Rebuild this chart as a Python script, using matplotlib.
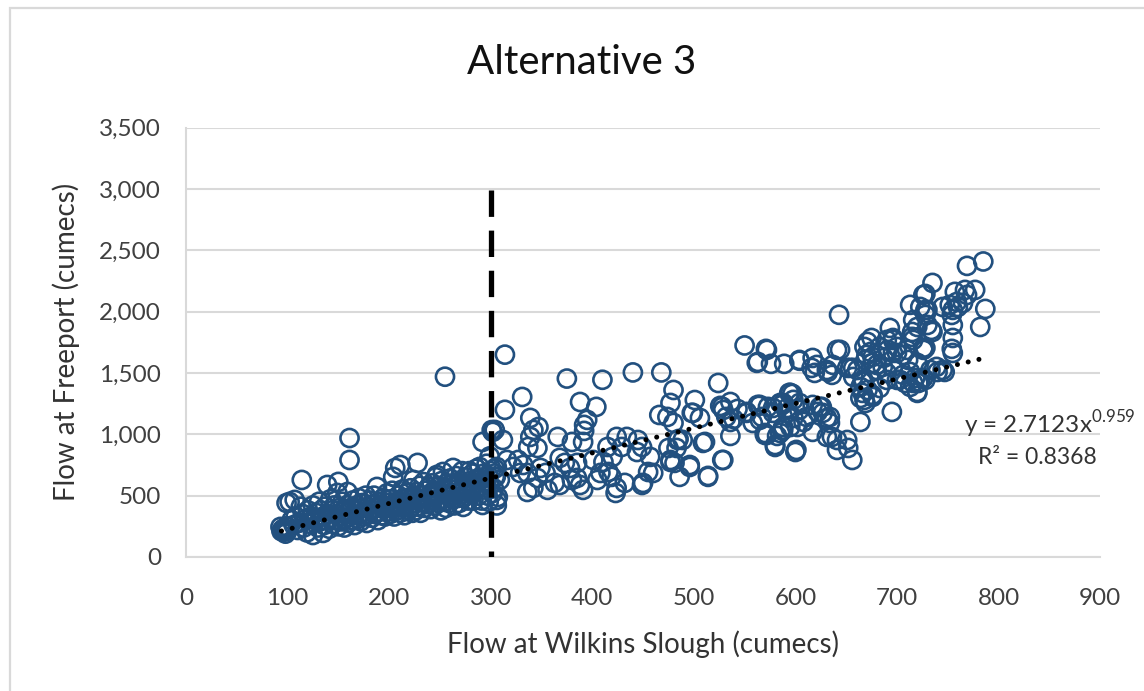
import matplotlib
matplotlib.use('Agg')
import matplotlib.pyplot as plt
import numpy as np
from matplotlib.ticker import FuncFormatter
from matplotlib.patches import Rectangle

plt.rcParams['font.family'] = ['Lato', 'DejaVu Sans']
plt.rcParams['mathtext.fontset'] = 'custom'
plt.rcParams['mathtext.rm'] = 'Lato'

# dense low-flow band (Wilkins Slough < ~300 cumecs)
wilkins_low = [93, 96, 95, 98, 97, 100, 94, 99,
               102, 99, 107, 104, 106, 108, 110, 112, 114, 115, 116, 118, 119, 120, 113,
               122, 123, 125, 125, 127, 128, 130, 131, 132, 133, 135, 135, 136, 137, 138, 139, 139,
               141, 142, 143, 144, 145, 146, 147, 148, 149, 150, 150, 151, 152, 153, 154, 155, 156, 157, 158, 159, 160, 160,
               161, 161, 162, 163, 164, 165, 166, 167, 168, 169, 170, 171, 172, 173, 174, 175, 176, 177, 178, 179, 180,
               181, 182, 183, 184, 185, 186, 188, 188, 189, 190, 191, 192, 193, 194, 195, 196, 197, 198, 199, 200,
               201, 202, 203, 204, 204, 205, 206, 207, 208, 209, 210, 211, 211, 212, 213, 214, 215, 216, 217, 218, 219, 220,
               221, 222, 223, 224, 224, 225, 226, 227, 228, 228, 229, 230, 231, 232, 233, 234, 235, 236, 237, 238, 239, 240,
               241, 242, 243, 244, 245, 246, 247, 247, 248, 249, 250, 251, 252, 253, 253, 254, 255, 255, 256, 257, 258, 259, 260,
               261, 262, 263, 263, 264, 265, 266, 267, 268, 269, 270, 271, 272, 273, 273, 274, 275, 276, 277, 278, 279, 280, 280,
               281, 282, 283, 284, 285, 286, 287, 288, 289, 289, 290, 291, 292, 292, 293, 294, 295, 296, 297, 298, 299, 300,
               302, 305, 307, 301, 303, 304, 306, 299, 298]
freeport_low = [245, 204, 225, 190, 235, 215, 210, 250,
                449, 440, 465, 300, 260, 330, 220, 280, 628, 350, 240, 310, 200, 380, 410,
                270, 330, 179, 420, 300, 360, 240, 450, 290, 380, 196, 330, 260, 410, 300, 587, 350,
                230, 470, 320, 380, 270, 420, 300, 350, 522, 612, 250, 400, 330, 290, 450, 370, 240, 310, 420, 530, 280, 360,
                970, 791, 400, 300, 460, 340, 260, 380, 420, 310, 480, 350, 290, 400, 440, 330, 370, 500, 277, 410, 350,
                460, 380, 320, 430, 500, 350, 571, 400, 300, 450, 370, 420, 340, 480, 390, 330, 440, 520, 370, 410,
                350, 470, 540, 653, 400, 330, 726, 450, 380, 500, 420, 750, 360, 470, 550, 400, 340, 480, 430, 520, 380, 460,
                560, 410, 360, 628, 490, 440, 380, 530, 767, 470, 410, 580, 360, 500, 450, 610, 400, 540, 480, 430, 570, 510,
                390, 600, 460, 540, 420, 650, 669, 500, 440, 580, 470, 380, 620, 693, 520, 450, 1470, 560, 400, 600, 500, 440, 640,
                550, 470, 726, 600, 420, 520, 660, 480, 580, 440, 620, 540, 700, 481, 408, 590, 650, 500, 560, 460, 700, 571, 620,
                510, 680, 460, 600, 540, 720, 640, 500, 734, 628, 580, 460, 938, 424, 680, 550, 620, 760, 500, 660, 580, 700,
                1020, 653, 489, 1035, 560, 720, 420, 820, 450]

# scattered high-flow points (Wilkins Slough > ~300 cumecs)
wilkins_high = [314, 375, 410, 440, 468, 550, 571, 562, 576, 589, 604, 331, 314, 388, 404, 480, 477, 524, 501, 466,
                474, 480, 498, 506, 526, 536, 543, 539, 552, 564, 573, 585, 597, 592, 604, 587, 582, 572, 608, 600,
                580, 536, 529, 509, 514, 486, 496, 485, 475, 477, 481, 460, 455, 449, 445, 444, 434, 424, 429, 415,
                420, 411, 401, 432, 424, 423, 416, 419, 408, 405, 391, 388, 385, 392, 395, 392, 391, 380, 366, 368,
                373, 378, 385, 363, 356, 368, 380, 349, 354, 346, 342, 336, 339, 342, 347, 339, 346, 337, 327, 322,
                332, 329, 336, 312, 304, 316, 306, 304, 302, 306, 309,
                785, 769, 735, 728, 713, 723, 730, 757, 767, 777, 769, 745, 752, 755, 760, 754, 759, 765, 787, 782,
                755, 755, 754, 755, 735, 728, 730, 716, 715, 720, 716, 726, 693, 696, 690, 683, 700, 696, 706, 675,
                668, 670, 676, 680, 686, 643, 641, 644, 617, 621, 616, 619, 637, 632, 651, 657, 572, 563, 657, 667,
                664, 671, 666, 668, 676, 690, 700, 706, 696, 713, 716, 723, 726, 720, 713, 740, 747, 695, 664, 651,
                652, 641, 641, 631, 634, 624, 627, 622, 631, 617, 611, 617, 601, 594, 604, 587, 578, 588, 580, 570,
                565, 565, 558, 552, 529, 536, 499, 511, 489, 656, 636, 634, 626, 595, 604, 631, 636, 654, 661, 671,
                674, 669, 676, 680, 687, 696, 691, 700, 710, 711, 720, 726, 666, 664, 669, 676, 683, 690, 703, 708,
                718, 721, 728, 733, 739, 745, 720, 715, 726, 728, 734, 728,
                528, 532, 563, 567, 578, 588, 595, 598, 592, 598, 602, 588, 585, 570, 580, 484, 483, 477, 496, 528,
                514, 457, 450, 449]
freeport_high = [1650, 1455, 1445, 1505, 1505, 1725, 1697, 1583, 1575, 1575, 1600, 1305, 1200, 1264, 1224, 1362, 1256, 1419, 1280, 1158,
                 1142, 1093, 1175, 1134, 1232, 1264, 1207, 1126, 1183, 1232, 1224, 1256, 1330, 1215, 1256, 1036, 987, 995, 1101, 856,
                 905, 987, 791, 930, 661, 653, 734, 962, 889, 775, 767, 685, 693, 587, 954, 856, 979, 979, 897, 897,
                 816, 775, 791, 604, 563, 522, 693, 653, 685, 628, 547, 587, 644, 1077, 1118, 1028, 938, 938, 979, 808,
                 767, 726, 767, 604, 547, 587, 628, 726, 685, 644, 563, 530, 1134, 1036, 1060, 979, 889, 897, 791, 734,
                 750, 685, 685, 954, 1036, 791, 734, 653, 522, 465, 628,
                 2410, 2374, 2235, 2145, 2056, 2039, 2015, 2162, 2178, 2178, 2137, 2039, 2056, 2015, 2039, 1974, 2080, 2072, 2023, 1876,
                 1892, 1786, 1697, 1664, 1835, 1974, 1892, 1933, 1835, 1876, 1770, 1705, 1868, 1786, 1770, 1713, 1713, 1664, 1648, 1786,
                 1713, 1648, 1631, 1566, 1550, 1975, 1689, 1689, 1623, 1566, 1542, 1501, 1566, 1509, 1542, 1542, 1689, 1591, 1468, 1444,
                 1387, 1362, 1338, 1281, 1305, 1501, 1444, 1485, 1550, 1509, 1419, 1427, 1460, 1346, 1387, 1509, 1509, 1183, 1101, 954,
                 889, 954, 873, 979, 1093, 1224, 1175, 1183, 1134, 1240, 1142, 1020, 873, 1338, 1199, 1240, 1175, 1036, 913, 1011,
                 1240, 1118, 1093, 1175, 1199, 1101, 1175, 938, 954, 791, 979, 1142, 1224, 1060, 1607, 1525, 1485, 1542, 1525, 1754,
                 1672, 1607, 1583, 1525, 1623, 1770, 1689, 1664, 1689, 1607, 1583, 1689, 1427, 1297, 1256, 1321, 1378, 1444, 1444, 1419,
                 1460, 1419, 1444, 1525, 1550, 1525, 1338, 1795, 2137, 2015, 1852, 1705,
                 1224, 1142, 1240, 1142, 1215, 1256, 1338, 1281, 1175, 1134, 1060, 1060, 1011, 995, 897, 954, 889, 791, 750, 791,
                 653, 816, 604, 897]

# power trendline reported on the chart
trend_a = 2.7123
trend_b = 0.959
trend_range = [94, 785]
threshold = 300
threshold_top = 2990

fig = plt.figure(figsize=(11.44, 6.91), dpi=100)
ax = fig.add_axes([0.1626, 0.194, 0.799, 0.621])

fig.patches.append(Rectangle((0.0087, -0.05), 1.2, 1.038, transform=fig.transFigure,
                             fill=False, edgecolor='#D9D9D9', lw=1.6))

blue = '#22507F'
ax.scatter(wilkins_low + wilkins_high, freeport_low + freeport_high, s=170, facecolors='none',
           edgecolors=blue, linewidths=1.9, zorder=3)

xt = np.linspace(trend_range[0], trend_range[1], 200)
ax.plot(xt, trend_a * xt ** trend_b, color='black', lw=3.6, linestyle=(0, (0.01, 2.2)),
        dash_capstyle='round', zorder=4)

ax.plot([threshold, threshold], [threshold_top, 0], color='black', lw=3.8,
        linestyle=(0, (5.0, 2.6)), zorder=5)

ax.set_xlim(0, 900)
ax.set_ylim(0, 3500)
ax.set_xticks(range(0, 901, 100))
ax.set_yticks(range(0, 3501, 500))
ax.yaxis.set_major_formatter(FuncFormatter(lambda v, p: '{:,.0f}'.format(v)))
ax.grid(axis='y', color='#D9D9D9', lw=1.5, zorder=0)
ax.set_axisbelow(True)
for s in ['top', 'right']:
    ax.spines[s].set_visible(False)
for s in ['left', 'bottom']:
    ax.spines[s].set_color('#D9D9D9')
    ax.spines[s].set_linewidth(1.5)
ax.tick_params(axis='x', length=0, labelsize=17.5, labelcolor='#404040', pad=22)
ax.tick_params(axis='y', length=0, labelsize=17.5, labelcolor='#404040', pad=18)

fig.text(0.508, 1 - 62 / 691, 'Alternative 3', fontsize=29, color='#111111', ha='center', va='center')
ax.set_xlabel('Flow at Wilkins Slough (cumecs)', fontsize=20, color='#333333', labelpad=16)
ax.set_ylabel('Flow at Freeport (cumecs)', fontsize=20, color='#333333', labelpad=14)

ax.text(851, 1085, 'y = 2.7123x$^{0.959}$', fontsize=17.5, color='#333333', ha='center', va='center',
        clip_on=False)
ax.text(838, 815, 'R² = 0.8368', fontsize=16.5, color='#333333', ha='center', va='center')

fig.savefig('out.png', dpi=100)
